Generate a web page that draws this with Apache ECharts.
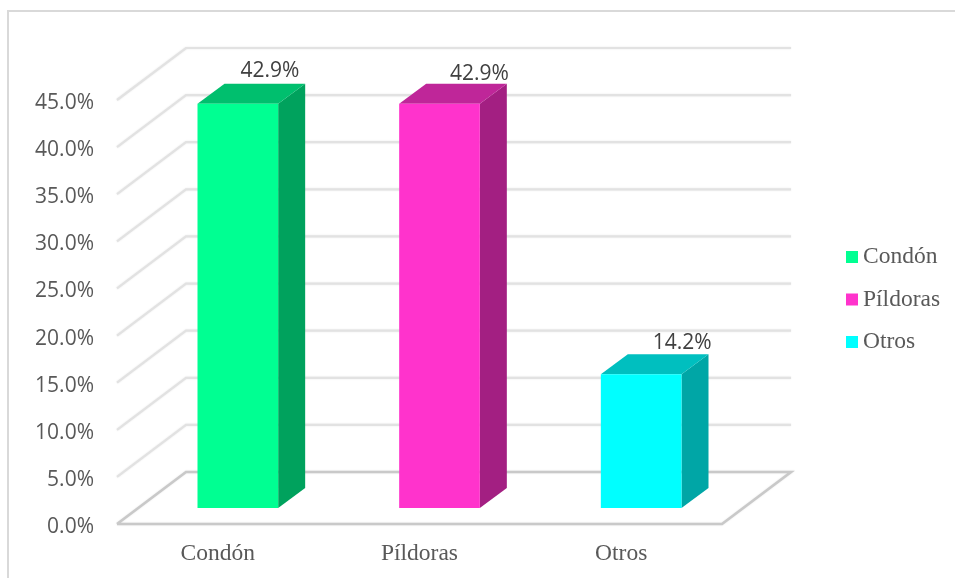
<!DOCTYPE html>
<html><head><meta charset="utf-8">
<style>html,body{margin:0;padding:0;background:#fff}#c{width:955px;height:578px}</style>
<script src="https://cdn.jsdelivr.net/npm/echarts@6/dist/echarts.min.js"></script>
</head><body><div id="c"></div>
<script>
const categories = ['Condón', 'Píldoras', 'Otros'];
const values = [42.9, 42.9, 14.2];
const wallTicks = [0, 5, 10, 15, 20, 25, 30, 35, 40, 45];
const faceColors = ['#00FF92', '#FF33CC', '#00FFFF'];
const topColors = ['#00BF6E', '#BF2699', '#00BFBF'];
const sideColors = ['#00A25D', '#A31F82', '#00A6A6'];

// Oblique projection of the 3D box (pixels)
const WALL_DX = 69, WALL_DY = 52;
const FLOOR_DX = 20, FLOOR_DY = 16, BAR_DX = 27, BAR_DY = 20;
const LABEL_DX = [32, 40, 41], LABEL_DY = [33, 30, 31];
const AXIS_FONT = '"Open Sans", sans-serif';
const SERIF_FONT = '"Liberation Serif", serif';

function renderWall(params, api) {
  const v = api.value(1), cs = params.coordSys;
  const y = api.coord([0, v])[1];
  const l = cs.x, r = cs.x + cs.width;
  const floor = v === 0;
  const stroke = floor ? '#c9c9c9' : '#e2e2e2';
  return {
    type: 'polyline',
    shape: { points: floor
      ? [[l, y], [l + WALL_DX, y - WALL_DY], [r + WALL_DX, y - WALL_DY], [r, y], [l, y]]
      : [[l, y], [l + WALL_DX, y - WALL_DY], [r + WALL_DX, y - WALL_DY]] },
    style: { fill: null, stroke, lineWidth: floor ? 2.6 : 2.2, lineJoin: 'miter',
      shadowBlur: 2, shadowColor: '#e8e8e8' }
  };
}

function makeRenderBar(i) {
  return function (params, api) {
    const c = api.value(0);
    const v = api.value(1);
    const base = api.coord([c, 0]);
    const top = api.coord([c, v]);
    const w = api.size([1, 0])[0] * 0.4;
    const x0 = base[0] + FLOOR_DX - w / 2, x1 = x0 + w;
    const y0 = base[1] - FLOOR_DY, y1 = top[1] - FLOOR_DY;
    return {
      type: 'group',
      children: [
        { type: 'polygon', shape: { points: [[x1, y0], [x1 + BAR_DX, y0 - BAR_DY], [x1 + BAR_DX, y1 - BAR_DY], [x1, y1]] }, style: { fill: sideColors[i] } },
        { type: 'polygon', shape: { points: [[x0, y1], [x1, y1], [x1 + BAR_DX, y1 - BAR_DY], [x0 + BAR_DX, y1 - BAR_DY]] }, style: { fill: topColors[i] } },
        { type: 'rect', shape: { x: x0, y: y1, width: w, height: y0 - y1 }, style: { fill: faceColors[i] } },
        { type: 'text', x: (x0 + x1) / 2 + LABEL_DX[i], y: y1 - LABEL_DY[i],
          style: { text: v.toFixed(1) + '%', fill: '#404040', font: '21px ' + AXIS_FONT, align: 'center', verticalAlign: 'middle' } }
      ]
    };
  };
}

const chart = echarts.init(document.getElementById('c'), null, { renderer: 'canvas' });
chart.setOption({
  animation: false,
  backgroundColor: '#ffffff',
  grid: { left: 117, top: 100, width: 605, height: 424, containLabel: false },
  xAxis: {
    type: 'category', data: categories,
    axisLine: { show: false }, axisTick: { show: false }, splitLine: { show: false },
    axisLabel: { color: '#595959', fontFamily: SERIF_FONT, fontSize: 23.5, margin: 18 }
  },
  yAxis: {
    type: 'value', min: 0, max: 45, interval: 5,
    axisLine: { show: false }, axisTick: { show: false }, splitLine: { show: false },
    axisLabel: { margin: 23, formatter: v => '{t|' + v.toFixed(1) + '%}',
      rich: { t: { color: '#595959', fontFamily: AXIS_FONT, fontSize: 21, padding: [6, 0, 0, 0] } } }
  },
  legend: {
    orient: 'vertical', left: 846, top: 245, padding: 0, itemWidth: 12, itemHeight: 12, itemGap: 18.5, icon: 'rect',
    data: categories, selectedMode: false,
    textStyle: { color: '#595959', fontFamily: SERIF_FONT, fontSize: 23.5 }
  },
  graphic: [{
    type: 'polyline', silent: true, z: 0,
    shape: { points: [[8, 578], [8, 11], [955, 11]] },
    style: { fill: null, stroke: '#d9d9d9', lineWidth: 2 }
  }],
  series: [
    { type: 'custom', name: 'walls', z: 1, silent: true, clip: false,
      data: wallTicks.map(t => [categories[0], t]), encode: { x: 0, y: 1 }, renderItem: renderWall }
  ].concat(categories.map((name, i) => ({
    type: 'custom', name, z: 2, silent: true, clip: false,
    itemStyle: { color: faceColors[i] },
    data: [[name, values[i]]], encode: { x: 0, y: 1 },
    renderItem: makeRenderBar(i)
  })))
});
</script></body></html>
